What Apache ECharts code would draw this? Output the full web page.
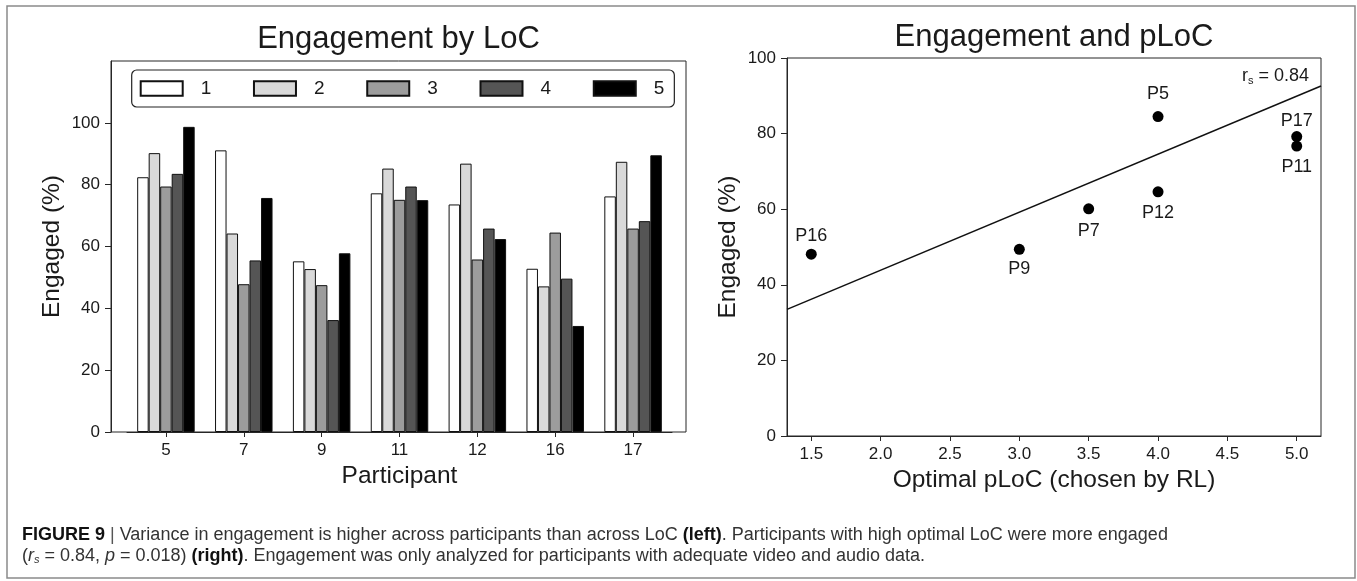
<!DOCTYPE html>
<html><head><meta charset="utf-8">
<script src="https://cdn.jsdelivr.net/npm/echarts@6/dist/echarts.min.js"></script>
<style>html,body{margin:0;padding:0;background:#fff}#c{width:1357px;height:581px}</style>
</head><body><div id="c"></div>
<script>
// ---------- data ----------
const participants = ['5', '7', '9', '11', '12', '16', '17'];
const locNames = ['1', '2', '3', '4', '5'];
const loc1 = [82.4, 91.1, 55.2, 77.2, 73.6, 52.8, 76.2];
const loc2 = [90.2, 64.2, 52.7, 85.2, 86.8, 47.1, 87.4];
const loc3 = [79.4, 47.8, 47.5, 75.1, 55.8, 64.5, 65.8];
const loc4 = [83.5, 55.5, 36.2, 79.4, 65.8, 49.6, 68.2];
const loc5 = [98.7, 75.7, 57.8, 75.0, 62.4, 34.3, 89.5];
const leftYTicks = [0, 20, 40, 60, 80, 100];

const pointLabels = ['P16', 'P9', 'P7', 'P12', 'P5', 'P17', 'P11'];
const optimalPLoC = [1.5, 3.0, 3.5, 4.0, 4.0, 5.0, 5.0];
const engagedPct = [48.1, 49.4, 60.1, 64.6, 84.5, 79.2, 76.7];
const fitX = [1.325, 5.175];
const fitY = [33.5, 92.6];
const rightXTicks = [1.5, 2.0, 2.5, 3.0, 3.5, 4.0, 4.5, 5.0];
const rsText = '0.84';

// ---------- styles ----------
const FONT = '"Liberation Sans", Arial, Helvetica, sans-serif';
const AX = '#262626';
const TXT = '#1a1a1a';
const barColors = ['#ffffff', '#d9d9d9', '#9c9c9c', '#555555', '#000000'];
const locSeries = [loc1, loc2, loc3, loc4, loc5];
const labelPlacement = {
  P16: ['top', 4], P9: ['bottom', 5], P7: ['bottom', 8], P12: ['bottom', 7],
  P5: ['top', 8], P17: ['top', 1], P11: ['bottom', 6]
};

const chart = echarts.init(document.getElementById('c'), null, {renderer: 'canvas'});

const tickLabel = {fontSize: 17, color: TXT, fontFamily: FONT};
const axisName = {fontSize: 24.5, color: TXT, fontFamily: FONT};
const CAP = 18;

const option = {
  animation: false,
  backgroundColor: '#ffffff',
  textStyle: {fontFamily: FONT},
  title: [
    {text: 'Engagement by LoC', left: 398.5, top: 24, textAlign: 'center', padding: 0,
     textStyle: {fontSize: 31, fontWeight: 'normal', color: TXT, fontFamily: FONT}},
    {text: 'Engagement and pLoC', left: 1054, top: 22, textAlign: 'center', padding: 0,
     textStyle: {fontSize: 31, fontWeight: 'normal', color: TXT, fontFamily: FONT}},
    {text: '{r|r}{s|s}{r| = ' + rsText + '}', left: 1309, top: 67, textAlign: 'right', padding: 0,
     textStyle: {fontWeight: 'normal', rich: {
       r: {fontSize: 18, fontWeight: 'normal', color: TXT, fontFamily: FONT},
       s: {fontSize: 11, fontWeight: 'normal', color: TXT, fontFamily: FONT, padding: [8, 0, 0, 0]}
     }}}
  ],
  legend: {
    data: locNames,
    left: 131.7, top: 70,
    orient: 'horizontal',
    icon: 'rect',
    itemWidth: 42, itemHeight: 14.5, itemGap: 41.7,
    padding: [9, 10, 9, 8],
    borderColor: '#222', borderWidth: 1.2, borderRadius: 5,
    backgroundColor: '#fff',
    textStyle: {fontSize: 19, color: TXT, fontFamily: FONT, padding: [0, 0, 0, 13]}
  },
  grid: [
    {left: 127, right: 685, top: 61, bottom: 149, outerBoundsMode: 'none'},
    {left: 111, right: 671, top: 61, bottom: 149, show: true, borderColor: AX, borderWidth: 1,
     backgroundColor: 'transparent', outerBoundsMode: 'none'},
    {left: 787, right: 36, top: 58, bottom: 145, show: true, borderColor: AX, borderWidth: 1,
     backgroundColor: 'transparent', outerBoundsMode: 'none'}
  ],
  xAxis: [
    {gridIndex: 0, type: 'category', data: participants,
     axisLine: {show: true, lineStyle: {color: AX}},
     axisTick: {show: true, alignWithLabel: true, length: 5, lineStyle: {color: AX}},
     axisLabel: Object.assign({margin: 10}, tickLabel),
     splitLine: {show: false},
     name: 'Participant', nameLocation: 'middle', nameGap: 30, nameTextStyle: axisName},
    {gridIndex: 1, type: 'value', show: false, min: 0, max: 1},
    {gridIndex: 2, type: 'value', min: 1.325, max: 5.175,
     axisLine: {show: true, lineStyle: {color: AX}},
     axisTick: {show: true, customValues: rightXTicks, length: 5, lineStyle: {color: AX}},
     axisLabel: Object.assign({margin: 10, customValues: rightXTicks, formatter: v => Number(v).toFixed(1)}, tickLabel),
     splitLine: {show: false},
     name: 'Optimal pLoC (chosen by RL)', nameLocation: 'middle', nameGap: 31, nameTextStyle: axisName}
  ],
  yAxis: [
    {gridIndex: 0, type: 'value', min: 0, max: 120, offset: 16,
     axisLine: {show: true, lineStyle: {color: AX}},
     axisTick: {show: true, customValues: leftYTicks, length: 6, lineStyle: {color: AX}},
     axisLabel: Object.assign({margin: 11, customValues: leftYTicks}, tickLabel),
     splitLine: {show: false},
     name: 'Engaged (%)', nameLocation: 'middle', nameGap: 46, nameRotate: 90, nameTextStyle: axisName},
    {gridIndex: 1, type: 'value', show: false, min: 0, max: 120},
    {gridIndex: 2, type: 'value', min: 0, max: 100, interval: 20,
     axisLine: {show: true, lineStyle: {color: AX}},
     axisTick: {show: true, length: 6, lineStyle: {color: AX}},
     axisLabel: Object.assign({margin: 11}, tickLabel),
     splitLine: {show: false},
     name: 'Engaged (%)', nameLocation: 'middle', nameGap: 46, nameRotate: 90, nameTextStyle: axisName}
  ],
  series: locSeries.map((d, i) => ({
    type: 'bar', name: locNames[i], xAxisIndex: 0, yAxisIndex: 0,
    data: d, barWidth: 11.5, barGap: '0%',
    itemStyle: {color: barColors[i], borderColor: '#111', borderWidth: 1},
    emphasis: {disabled: true}
  })).concat([
    {type: 'line', xAxisIndex: 2, yAxisIndex: 2, data: fitX.map((x, i) => [x, fitY[i]]),
     symbol: 'none', lineStyle: {color: '#111', width: 1.5}, silent: true, z: 1},
    {type: 'scatter', xAxisIndex: 2, yAxisIndex: 2, symbolSize: 11,
     itemStyle: {color: '#000', opacity: 1}, z: 3,
     emphasis: {disabled: true},
     data: optimalPLoC.map((x, i) => ({
       value: [x, engagedPct[i]], name: pointLabels[i],
       label: {position: labelPlacement[pointLabels[i]][0], distance: labelPlacement[pointLabels[i]][1]}
     })),
     label: {show: true, formatter: p => p.name, fontSize: 18, color: TXT, fontFamily: FONT}}
  ]),
  graphic: [
    {type: 'rect', silent: true, shape: {x: 7, y: 6, width: 1348, height: 572},
     style: {fill: 'none', stroke: '#8a8a8a', lineWidth: 1.5}},
    {type: 'text', left: 22, top: 526, silent: true,
     style: {
       text: '{b|FIGURE 9} {bar||} {n|Variance in engagement is higher across participants than across LoC }{b|(left)}{n|. Participants with high optimal LoC were more engaged}',
       fontSize: CAP, fontFamily: FONT, fill: '#333',
       rich: {
         b: {fontSize: CAP, fontFamily: FONT, fontWeight: 'bold', fill: '#111'},
         bar: {fontSize: CAP, fontFamily: FONT, fill: '#555'},
         n: {fontSize: CAP, fontFamily: FONT, fill: '#333'}
       }
     }},
    {type: 'text', left: 22, top: 547, silent: true,
     style: {
       text: '{n|(}{i|r}{sub|s}{n| = 0.84, }{i|p}{n| = 0.018) }{b|(right)}{n|. Engagement was only analyzed for participants with adequate video and audio data.}',
       fontSize: CAP, fontFamily: FONT, fill: '#333',
       rich: {
         b: {fontSize: CAP, fontFamily: FONT, fontWeight: 'bold', fill: '#111'},
         n: {fontSize: CAP, fontFamily: FONT, fill: '#333'},
         i: {fontSize: CAP, fontFamily: FONT, fontStyle: 'italic', fill: '#333'},
         sub: {fontSize: 11, fontFamily: FONT, fontStyle: 'italic', fill: '#333', padding: [7, 0, 0, 0]}
       }
     }}
  ]
};
chart.setOption(option);
</script>
</body></html>
